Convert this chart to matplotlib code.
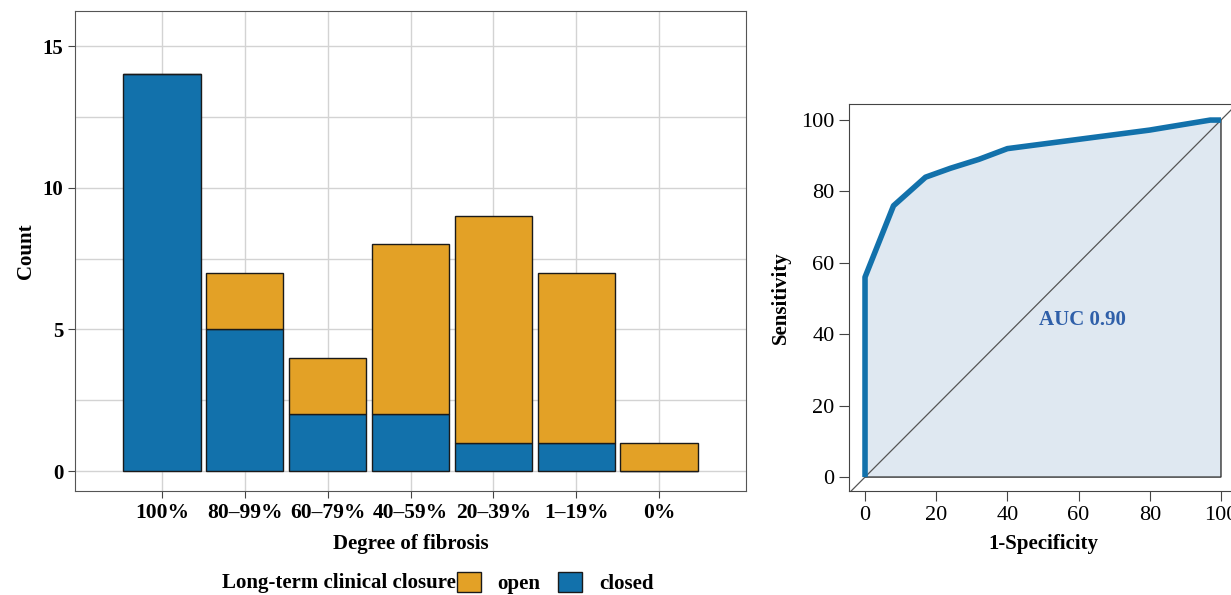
import matplotlib
matplotlib.use("Agg")
from matplotlib import pyplot as plt
from matplotlib.patches import Patch

# datos del grafico de barras
categorias = ["100%", "80\u201399%", "60\u201379%", "40\u201359%", "20\u201339%", "1\u201319%", "0%"]
cerrados = [14, 5, 2, 2, 1, 1, 0]
abiertos = [0, 2, 2, 6, 8, 6, 1]

# datos de la curva ROC (1-especificidad, sensibilidad)
roc_x = [0, 0, 8, 17, 24, 32, 40, 50, 60, 70, 80, 83, 97, 100]
roc_y = [0, 56, 76, 84, 86.5, 89, 92, 93.3, 94.6, 95.9, 97.2, 97.7, 100, 100]

azul = "#1271ab"
naranja = "#e3a126"

plt.rcParams["font.family"] = ["Liberation Serif", "DejaVu Serif"]
plt.rcParams["font.size"] = 15

fig = plt.figure(figsize=(12.31, 5.95), dpi=100)

###################
# BARRAS APILADAS #
###################

ax1 = fig.add_axes([75 / 1231, 1 - 491 / 595, (746 - 75) / 1231, (491 - 11) / 595])
pos = list(range(len(categorias)))
ax1.bar(pos, cerrados, width=0.93, color=azul, edgecolor="#1a1a1a", linewidth=1, zorder=3)
ax1.bar(pos, abiertos, bottom=cerrados, width=0.93, color=naranja, edgecolor="#1a1a1a", linewidth=1, zorder=3)

ax1.set_xlim(-1.05, 7.05)
ax1.set_ylim(-0.7, 16.24)
ax1.set_xticks(pos)
ax1.set_xticklabels(categorias, fontweight="bold", fontsize=15.5)
ax1.set_yticks([0, 5, 10, 15])
ax1.set_yticks([2.5, 7.5, 12.5], minor=True)
for lab in ax1.get_yticklabels():
    lab.set_fontweight("bold")
ax1.grid(True, which="both", color="#d3d3d3", linewidth=1, zorder=0)
ax1.tick_params(which="minor", length=0)
ax1.tick_params(which="major", length=5, color="#444444", direction="out")
for s in ax1.spines.values():
    s.set_color("#555555")
ax1.set_xlabel("Degree of fibrosis", fontweight="bold", labelpad=8)
ax1.set_ylabel("Count", fontweight="bold", labelpad=5)

fig.text(456 / 1231, 1 - 583 / 595, "Long-term clinical closure", ha="right", va="center",
         fontweight="bold")
handles = [Patch(facecolor=naranja, edgecolor="#1a1a1a"), Patch(facecolor=azul, edgecolor="#1a1a1a")]
leg = fig.legend(handles, ["open", "closed"], loc="center left",
                 bbox_to_anchor=(457 / 1231, 1 - 583 / 595), ncol=2, frameon=False,
                 borderpad=0, borderaxespad=0,
                 handlelength=1.15, handleheight=1.15, columnspacing=0.85, handletextpad=0.8,
                 prop={"weight": "bold", "size": 15})

#############
# CURVA ROC #
#############

ax2 = fig.add_axes([849 / 1231, 1 - 491 / 595, (1237 - 849) / 1231, (491 - 104) / 595])
ax2.fill(roc_x + [100], roc_y + [0], facecolor="#dfe8f1", edgecolor="#333333", linewidth=1, zorder=2)
ax2.axline((0, 0), (100, 100), color="#555555", linewidth=0.9, zorder=3)
ax2.plot(roc_x, roc_y, color=azul, linewidth=4, solid_capstyle="butt", zorder=4)
ax2.set_xlim(-4.5, 104.5)
ax2.set_ylim(-3.9, 104.5)
ax2.set_xticks([0, 20, 40, 60, 80, 100])
ax2.set_yticks([0, 20, 40, 60, 80, 100])
ax2.tick_params(length=7, color="#444444", direction="out", labelsize=16)
for s in ax2.spines.values():
    s.set_color("#444444")
ax2.text(61.2, 44, "AUC 0.90", color="#2f5fa9", fontweight="bold", ha="center", va="center", zorder=5)
ax2.set_xlabel("1-Specificity", fontweight="bold", labelpad=7)
ax2.set_ylabel("Sensitivity", fontweight="bold", labelpad=7)

fig.savefig("out.png", dpi=100)
